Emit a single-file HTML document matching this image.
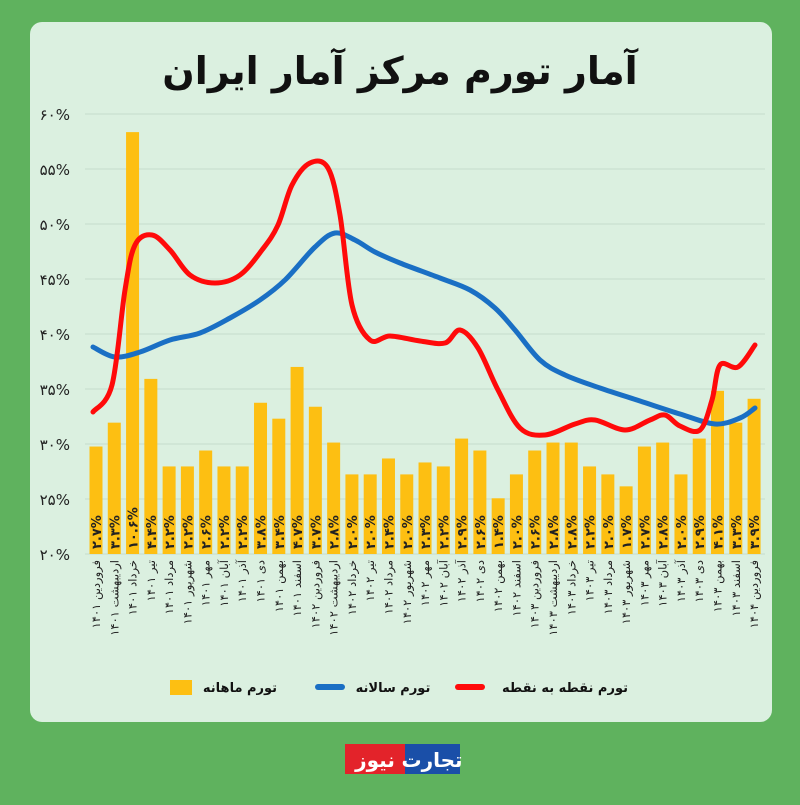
<!DOCTYPE html>
<html><head><meta charset="utf-8"><style>
body{margin:0;width:800px;height:800px;background:#5fb25e;overflow:hidden;font-family:"Liberation Sans","DejaVu Sans",sans-serif}
</style></head><body>
<svg id="s" width="800" height="800" xmlns="http://www.w3.org/2000/svg">
<rect width="800" height="800" fill="#5fb25e"/>
<rect x="30" y="22" width="742" height="700" rx="12" fill="#dbf0e0"/>
<text x="400" y="84" text-anchor="middle" direction="rtl" font-size="38" font-weight="bold" fill="#111" font-family="DejaVu Sans, sans-serif">آمار تورم مرکز آمار ایران</text>
<g id="grid"></g><g id="bars"></g>
<path id="blue" fill="none" stroke="#1a6fc4" stroke-width="5" stroke-linecap="round"/>
<path id="red" fill="none" stroke="#ff0a0a" stroke-width="5" stroke-linecap="round"/>
<g id="xl"></g>
<g font-size="13" font-weight="bold" fill="#111" direction="rtl" font-family="DejaVu Sans, sans-serif">
<rect x="170" y="680" width="22" height="15" fill="#fdbf12"/><text x="240" y="692" text-anchor="middle">تورم ماهانه</text>
<rect x="315" y="684" width="30" height="6" rx="3" fill="#1a6fc4"/><text x="393" y="692" text-anchor="middle">تورم سالانه</text>
<rect x="455" y="684" width="30" height="6" rx="3" fill="#ff0a0a"/><text x="565" y="692" text-anchor="middle">تورم نقطه به نقطه</text>
</g>
<rect x="345" y="744" width="60" height="30" fill="#e3232a"/>
<rect x="405" y="744" width="55" height="30" fill="#1a4fa8"/>
<text x="375" y="767" text-anchor="middle" font-size="20" font-weight="bold" fill="#fff" font-family="DejaVu Sans, sans-serif">نیوز</text>
<text x="432" y="767" text-anchor="middle" font-size="20" font-weight="bold" fill="#fff" font-family="DejaVu Sans, sans-serif">تجارت</text>
</svg>
<script>
const fa=s=>String(s).replace(/\d/g,d=>'۰۱۲۳۴۵۶۷۸۹'[d]);
const NS="http://www.w3.org/2000/svg";
function el(p,t,a,txt){const e=document.createElementNS(NS,t);for(const k in a)e.setAttribute(k,a[k]);if(txt!==undefined)e.textContent=txt;document.getElementById(p).appendChild(e);return e;}
const Y=v=>554-(v-20)*11;
for(let v=20;v<=60;v+=5){el('grid','line',{x1:85,x2:765,y1:Y(v),y2:Y(v),stroke:'#c5dccb','stroke-width':1});el('grid','text',{x:70,y:Y(v)+6,'text-anchor':'end','font-size':15,fill:'#222','font-family':'DejaVu Sans, sans-serif'},fa(v)+'%');}
const m=[2.7,3.3,10.6,4.4,2.2,2.2,2.6,2.2,2.2,3.8,3.4,4.7,3.7,2.8,2.0,2.0,2.4,2.0,2.3,2.2,2.9,2.6,1.4,2.0,2.6,2.8,2.8,2.2,2.0,1.7,2.7,2.8,2.0,2.9,4.1,3.3,3.9];
const months=['فروردین','اردیبهشت','خرداد','تیر','مرداد','شهریور','مهر','آبان','آذر','دی','بهمن','اسفند'];
const X=i=>96+i*18.28;
m.forEach((v,i)=>{const h=v*39.8;const x=X(i);
el('bars','rect',{x:x-6.5,y:554-h,width:13,height:h,fill:'#fdbf12'});
el('bars','text',{transform:`translate(${x+5},549) rotate(-90)`,'font-size':13,'font-weight':'bold',fill:'#222','font-family':'DejaVu Sans, sans-serif'},fa(v.toFixed(1))+'%');
const yr=1401+Math.floor(i/12);
el('xl','text',{transform:`translate(${x+4},560) rotate(-90)`,'text-anchor':'start',direction:'rtl','font-size':11.5,fill:'#222','font-family':'DejaVu Sans, sans-serif'},months[i%12]+' '+fa(yr));
});
function path(id,pts){let d='M'+pts[0][0]+','+pts[0][1];for(let i=1;i<pts.length;i++){const p0=pts[i-2]||pts[i-1],p1=pts[i-1],p2=pts[i],p3=pts[i+1]||p2;
d+=` C${p1[0]+(p2[0]-p0[0])/6},${p1[1]+(p2[1]-p0[1])/6} ${p2[0]-(p3[0]-p1[0])/6},${p2[1]-(p3[1]-p1[1])/6} ${p2[0]},${p2[1]}`;}document.getElementById(id).setAttribute('d',d);}
path('blue',[[93,347],[115,357],[140,352],[170,340],[200,333],[230,318],[260,300],[285,280],[315,247],[335,233],[355,240],[375,252],[400,263],[440,278],[470,290],[495,308],[515,330],[540,360],[565,375],[600,388],[640,401],[680,414],[715,424],[740,418],[755,408]]);
path('red',[[93,412],[112,385],[125,290],[135,245],[152,235],[170,250],[190,275],[215,283],[240,275],[262,250],[278,225],[292,185],[310,163],[328,168],[340,215],[352,305],[370,340],[390,336],[420,341],[445,343],[460,330],[478,348],[498,390],[520,428],[545,435],[575,424],[595,420],[625,430],[650,420],[665,415],[680,426],[700,430],[712,400],[720,365],[738,367],[755,345]]);
</script>
</body></html>
